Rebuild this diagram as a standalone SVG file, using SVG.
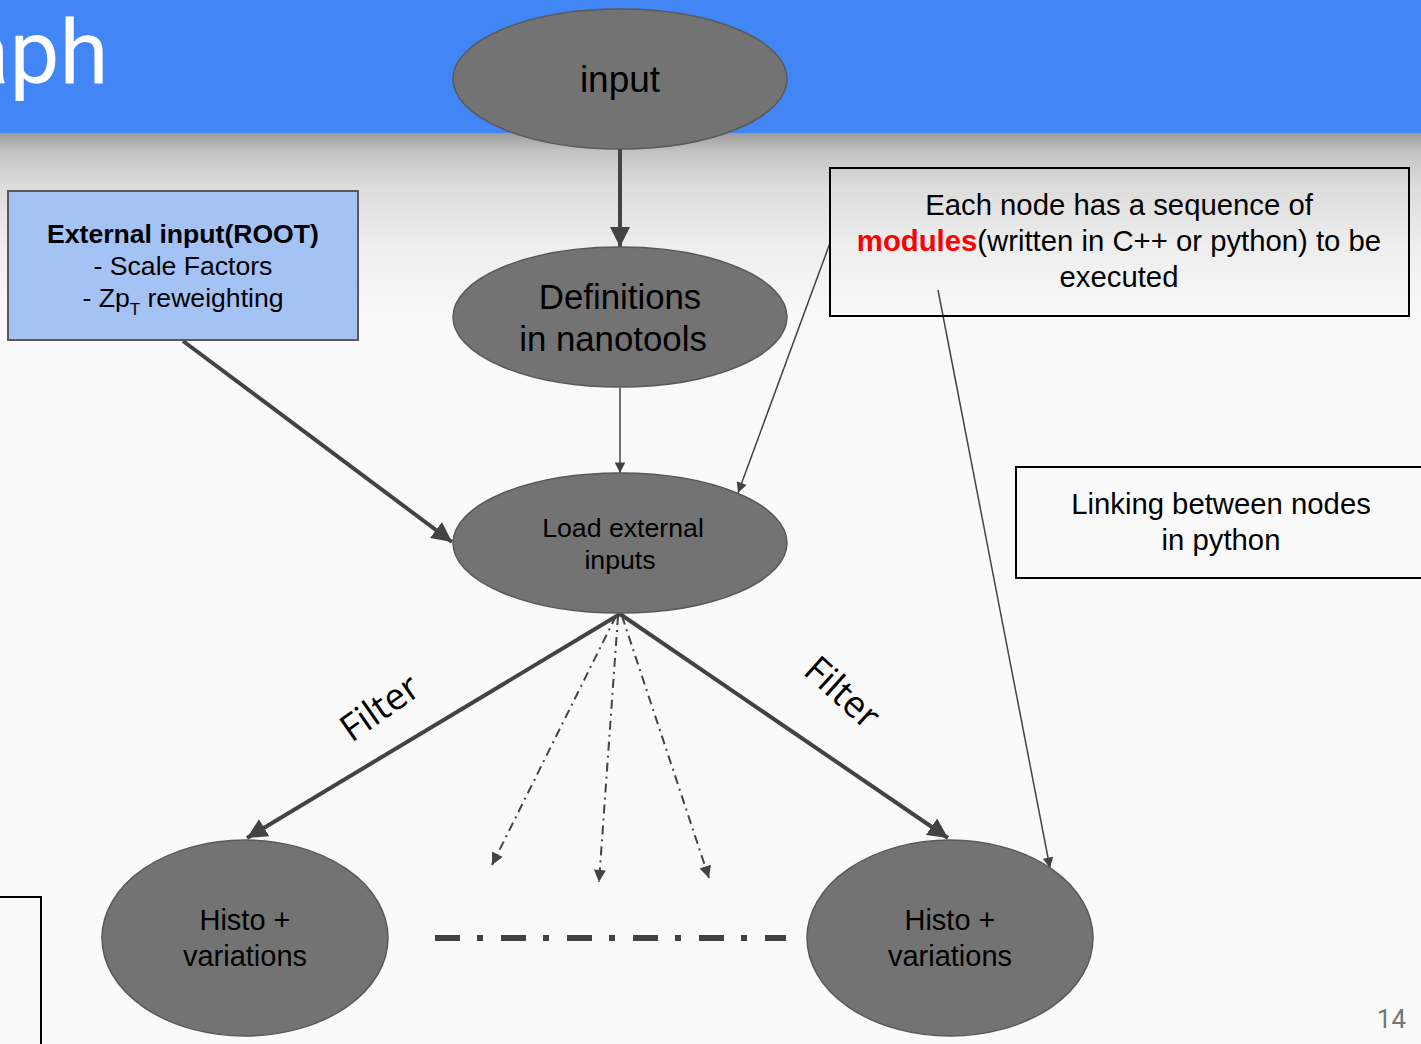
<svg xmlns="http://www.w3.org/2000/svg" width="1421" height="1044" viewBox="0 0 1421 1044">
  <defs>
    <linearGradient id="shade" x1="0" y1="0" x2="0" y2="1">
      <stop offset="0" stop-color="#9c9c9c"/>
      <stop offset="0.1" stop-color="#c4c4c4"/>
      <stop offset="0.28" stop-color="#dcdcdc"/>
      <stop offset="0.6" stop-color="#eeeeee"/>
      <stop offset="1" stop-color="#fafafa"/>
    </linearGradient>
    <marker id="bigHead" viewBox="0 0 10 10" refX="10" refY="5" markerWidth="5" markerHeight="5" markerUnits="strokeWidth" orient="auto">
      <path d="M0,0 L10,5 L0,10 z" fill="#434343"/>
    </marker>
    <marker id="smallHead" viewBox="0 0 10 10" refX="10" refY="5" markerWidth="8" markerHeight="7" markerUnits="strokeWidth" orient="auto">
      <path d="M0,0 L10,5 L0,10 z" fill="#434343"/>
    </marker>
    <marker id="dotHead" viewBox="0 0 10 10" refX="10" refY="5" markerWidth="7" markerHeight="6" markerUnits="strokeWidth" orient="auto">
      <path d="M0,0 L10,5 L0,10 z" fill="#434343"/>
    </marker>
  </defs>
  <style>
    .node ellipse { fill: #737373; stroke: #595959; stroke-width: 1.5; }
    .label { font-family: "Liberation Sans", Arial, sans-serif; fill: #000; text-anchor: middle; }
    .note rect { fill: none; stroke: #000; stroke-width: 2; }
    .note text { font-size: 29.3px; }
    .thick { stroke: #434343; stroke-width: 4; fill: none; marker-end: url(#bigHead); }
    .thin { stroke: #434343; stroke-width: 1.5; fill: none; marker-end: url(#smallHead); }
    .dashdot { stroke: #434343; stroke-width: 2; fill: none; stroke-dasharray: 9 5 2 5; marker-end: url(#dotHead); }
    .filter { font-family: "Open Sans", "DejaVu Sans", sans-serif; font-size: 37px; fill: #000; text-anchor: middle; }
  </style>

  <!-- slide background, header bar and its shadow -->
  <rect x="0" y="0" width="1421" height="1044" fill="#fafafa"/>
  <rect x="0" y="133" width="1421" height="190" fill="url(#shade)"/>
  <rect x="0" y="0" width="1421" height="133" fill="#4285f4"/>
  <text x="-39" y="83" font-family="Roboto, 'Liberation Sans', sans-serif" font-size="89" fill="#ffffff">aph</text>

  <!-- page number -->
  <text x="1406" y="1028" font-family="Roboto, 'Liberation Sans', sans-serif" font-size="26" fill="#757575" text-anchor="end">14</text>

  <!-- partially visible box at lower left -->
  <path d="M0,897 H41 V1044" fill="none" stroke="#000" stroke-width="2"/>

  <!-- connectors -->
  <g id="connectors">
    <line class="thick" x1="620" y1="149" x2="620" y2="247"/>
    <line class="thin" x1="620" y1="388" x2="620" y2="473"/>
    <line class="thick" x1="183" y1="341" x2="452" y2="542"/>
    <line class="thin" x1="830" y1="243" x2="738" y2="493"/>
    <line class="thin" x1="938" y1="290" x2="1050" y2="868"/>
    <line class="thick" x1="620" y1="614" x2="247" y2="838"/>
    <line class="thick" x1="620" y1="614" x2="948" y2="838"/>
    <line class="dashdot" x1="616" y1="616" x2="492" y2="865"/>
    <line class="dashdot" x1="618" y1="616" x2="599" y2="882"/>
    <line class="dashdot" x1="622" y1="616" x2="709" y2="878"/>
    <line x1="435" y1="938" x2="786" y2="938" stroke="#434343" stroke-width="6" stroke-dasharray="25 17 6 18"/>
    <text class="filter" transform="translate(387,718) rotate(-35)">Filter</text>
    <text class="filter" transform="translate(834,702) rotate(42)">Filter</text>
  </g>

  <!-- nodes -->
  <g id="input" class="node">
    <ellipse cx="620" cy="79" rx="167" ry="70"/>
    <text class="label" x="620" y="92" font-size="37">input</text>
  </g>
  <g id="definitions" class="node">
    <ellipse cx="620" cy="317" rx="167" ry="70"/>
    <text class="label" x="620" y="309" font-size="34.8">Definitions</text>
    <text class="label" x="613" y="351" font-size="34.8">in nanotools</text>
  </g>
  <g id="load" class="node">
    <ellipse cx="620" cy="543" rx="167" ry="70"/>
    <text class="label" x="623" y="537" font-size="26.7">Load external</text>
    <text class="label" x="620" y="569" font-size="26.7">inputs</text>
  </g>
  <g id="histoLeft" class="node">
    <ellipse cx="245" cy="938" rx="143" ry="98"/>
    <text class="label" x="245" y="930" font-size="29">Histo +</text>
    <text class="label" x="245" y="966" font-size="29">variations</text>
  </g>
  <g id="histoRight" class="node">
    <ellipse cx="950" cy="938" rx="143" ry="98"/>
    <text class="label" x="950" y="930" font-size="29">Histo +</text>
    <text class="label" x="950" y="966" font-size="29">variations</text>
  </g>

  <g id="external">
    <rect x="8" y="191" width="350" height="149" fill="#a4c2f4" stroke="#595959" stroke-width="2"/>
    <text class="label" x="183" y="243" font-size="26.6" font-weight="bold">External input(ROOT)</text>
    <text class="label" x="183" y="275" font-size="26.6">- Scale Factors</text>
    <text class="label" x="183" y="307" font-size="26.6">- Zp<tspan font-size="17" dy="8">T</tspan><tspan dy="-8"> reweighting</tspan></text>
  </g>

  <g id="noteModules" class="note">
    <rect x="830" y="168" width="579" height="148"/>
    <text class="label" x="1119" y="215">Each node has a sequence of</text>
    <text class="label" x="1119" y="251"><tspan fill="#ff0000" font-weight="bold">modules</tspan>(written in C++ or python) to be</text>
    <text class="label" x="1119" y="287">executed</text>
  </g>

  <g id="noteLinking" class="note">
    <rect x="1016" y="467" width="420" height="111"/>
    <text class="label" x="1221" y="514">Linking between nodes</text>
    <text class="label" x="1221" y="550">in python</text>
  </g>
</svg>
